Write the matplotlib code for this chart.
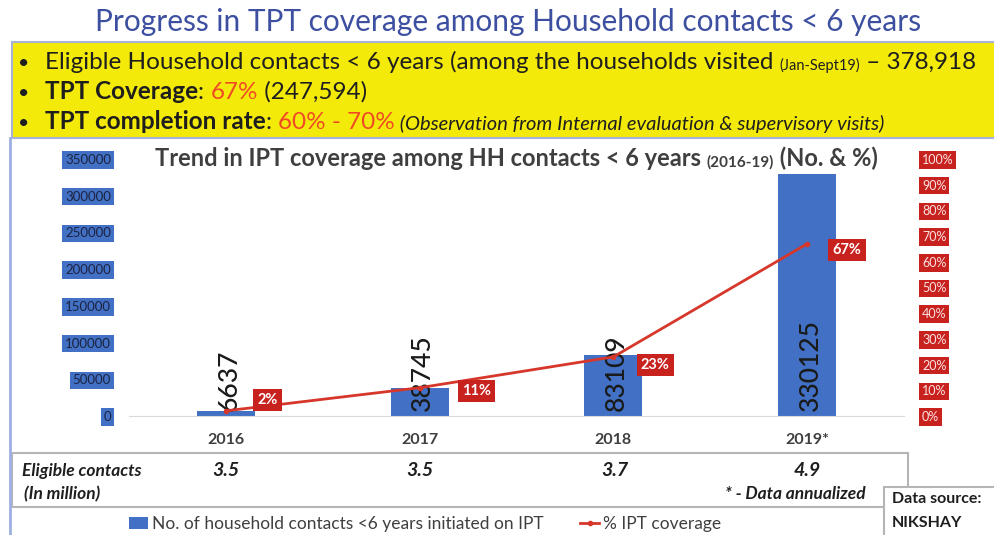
import numpy as np
import matplotlib.pyplot as plt
from matplotlib.patches import Rectangle
from matplotlib.lines import Line2D

plt.rcParams['font.family'] = ['Lato', 'DejaVu Sans']

# data
years = ['2016', '2017', '2018', '2019*']
initiated = [6637, 38745, 83109, 330125]
coverage = [2, 11, 23, 67]
eligible = ['3.5', '3.5', '3.7', '4.9']
left_ticks = [0, 50000, 100000, 150000, 200000, 250000, 300000, 350000]
right_ticks = [0, 10, 20, 30, 40, 50, 60, 70, 80, 90, 100]

# colours
bar_blue = '#4170c4'
line_red = '#d7372b'
box_red = '#c8221f'
txt_gray = '#3f3f3f'
title_blue = '#3d4fa0'
dark = '#1e1e1e'

fig = plt.figure(figsize=(9.95, 5.35), dpi=100)

# background axes in pixel coordinates for the slide decoration
bg = fig.add_axes([0, 0, 1, 1])
bg.set_xlim(0, 995)
bg.set_ylim(535, 0)
bg.axis('off')

def chain(x, y, parts):
    t = bg.text(x, y, parts[0][0], va='baseline', ha='left', **parts[0][1])
    for s, kw in parts[1:]:
        t = bg.annotate(s, xy=(1, 0), xycoords=t, va='bottom', ha='left', **kw)
    return t

bg.text(508, 31, 'Progress in TPT coverage among Household contacts < 6 years',
        ha='center', va='baseline', fontsize=21.5, color=title_blue)

bg.add_patch(Rectangle((12, 42), 990, 96, facecolor='#f4ea0a', edgecolor='#a8b2d8', lw=1.5))
bg.plot([10, 10], [138, 535], color='#9cb0e0', lw=2)

big = 17.5
for yb in [69, 99, 129]:
    bg.text(18, yb, '•', fontsize=14, color=dark, va='baseline')
chain(45, 69, [('Eligible Household contacts < 6 years (among the households visited ', dict(fontsize=big, color=dark)),
               ('(Jan-Sept19)', dict(fontsize=10.5, color=dark)),
               (' – 378,918', dict(fontsize=big, color=dark))])
chain(45, 99, [('TPT Coverage', dict(fontsize=big, color=dark, fontweight='bold')),
               (': ', dict(fontsize=big, color=dark)),
               ('67%', dict(fontsize=big, color='#f04a24')),
               (' (247,594)', dict(fontsize=big, color=dark))])
chain(45, 129, [('TPT completion rate', dict(fontsize=big, color=dark, fontweight='bold')),
                (': ', dict(fontsize=big, color=dark)),
                ('60% - 70%', dict(fontsize=big, color='#f04a24')),
                (' (Observation from Internal evaluation & supervisory visits)',
                 dict(fontsize=14.5, color=dark, style='italic'))])

# chart title
chain(155, 166, [('Trend in IPT coverage among HH contacts < 6 years ', dict(fontsize=17, color=txt_gray, fontweight='bold')),
                 ('(2016-19)', dict(fontsize=11, color=txt_gray, fontweight='bold')),
                 (' (No. & %)', dict(fontsize=17, color=txt_gray, fontweight='bold'))])

# table and data source boxes
bg.add_patch(Rectangle((12, 453), 896, 54, fill=False, edgecolor='#b5b5b5', lw=1.5))
bg.text(22, 476, 'Eligible contacts', fontsize=12.5, style='italic', fontweight='bold', color=dark, va='baseline')
bg.text(24, 499, '(In million)', fontsize=12.5, style='italic', fontweight='bold', color=dark, va='baseline')
bg.text(795, 499, '* - Data annualized', fontsize=12.5, style='italic', fontweight='bold', color=dark, va='baseline', ha='center')
bg.add_patch(Rectangle((884, 487), 120, 60, facecolor='white', edgecolor='#b5b5b5', lw=1.5))
bg.text(892, 503, 'Data source:', fontsize=11.5, fontweight='bold', color=dark, va='baseline')
bg.text(892, 527, 'NIKSHAY', fontsize=11.5, fontweight='bold', color=dark, va='baseline')

# main chart
ax = fig.add_axes([129 / 995, 1 - 416 / 535, 775 / 995, 257 / 535])
ax.patch.set_alpha(0)
x = np.arange(len(years))
ax.bar(x, initiated, width=0.3, color=bar_blue, zorder=2)
ax.set_xlim(-0.5, 3.5)
ax.set_ylim(0, 350000)
for s in ['top', 'right', 'left']:
    ax.spines[s].set_visible(False)
ax.spines['bottom'].set_color('#d9d9d9')
ax.set_xticks(x, years)
ax.tick_params(axis='x', length=0, pad=12, labelsize=11.5, labelcolor=txt_gray)
for lab in ax.get_xticklabels():
    lab.set_fontweight('bold')
ax.set_yticks(left_ticks)
ax.tick_params(axis='y', length=0, pad=13, labelsize=9.5, labelcolor='#1c2340')
for lab in ax.get_yticklabels():
    lab.set_bbox(dict(facecolor=bar_blue, edgecolor='none', pad=2))

col_px = [226, 420, 615, 807]
for i, v in enumerate(initiated):
    ax.annotate(str(v), xy=(i, 0), xytext=(3, 5), textcoords='offset pixels',
                rotation=90, ha='center', va='bottom', fontsize=19, color='#1a1a1a',
                fontweight='medium', zorder=3)
    bg.text(col_px[i], 476, eligible[i], fontsize=14, style='italic',
            fontweight='bold', color=dark, ha='center', va='baseline')

ax2 = ax.twinx()
for s in ax2.spines.values():
    s.set_visible(False)
ax2.set_ylim(0, 100)
ax2.plot(x, coverage, color=line_red, lw=2, marker='o', ms=3, zorder=4)
ax2.set_yticks(right_ticks, [f'{t}%' for t in right_ticks])
ax2.tick_params(axis='y', length=0, pad=13, labelsize=9, labelcolor='#fbe3e3')
for lab in ax2.get_yticklabels():
    lab.set_bbox(dict(facecolor=box_red, edgecolor='none', pad=2))

label_offsets = [(42, 11), (57, -3), (42, -8), (40, -6)]
for i, p in enumerate(coverage):
    ax2.annotate(f'{p}%', xy=(i, p), xytext=label_offsets[i], textcoords='offset pixels',
                 ha='center', va='center', color='white', fontweight='bold', fontsize=10.5,
                 bbox=dict(facecolor=box_red, edgecolor='none', pad=3), zorder=5)

handles = [Rectangle((0, 0), 1, 1, facecolor=bar_blue),
           Line2D([], [], color=line_red, lw=2, marker='o', ms=3)]
fig.legend(handles, ['No. of household contacts <6 years initiated on IPT', '% IPT coverage'],
           loc='center', bbox_to_anchor=(425 / 995, 1 - 524 / 535), ncol=2, frameon=False,
           fontsize=12.5, labelcolor=txt_gray, columnspacing=2.1, handlelength=1.1,
           handletextpad=0.2, borderpad=0)

fig.savefig('out.png', dpi=100)
